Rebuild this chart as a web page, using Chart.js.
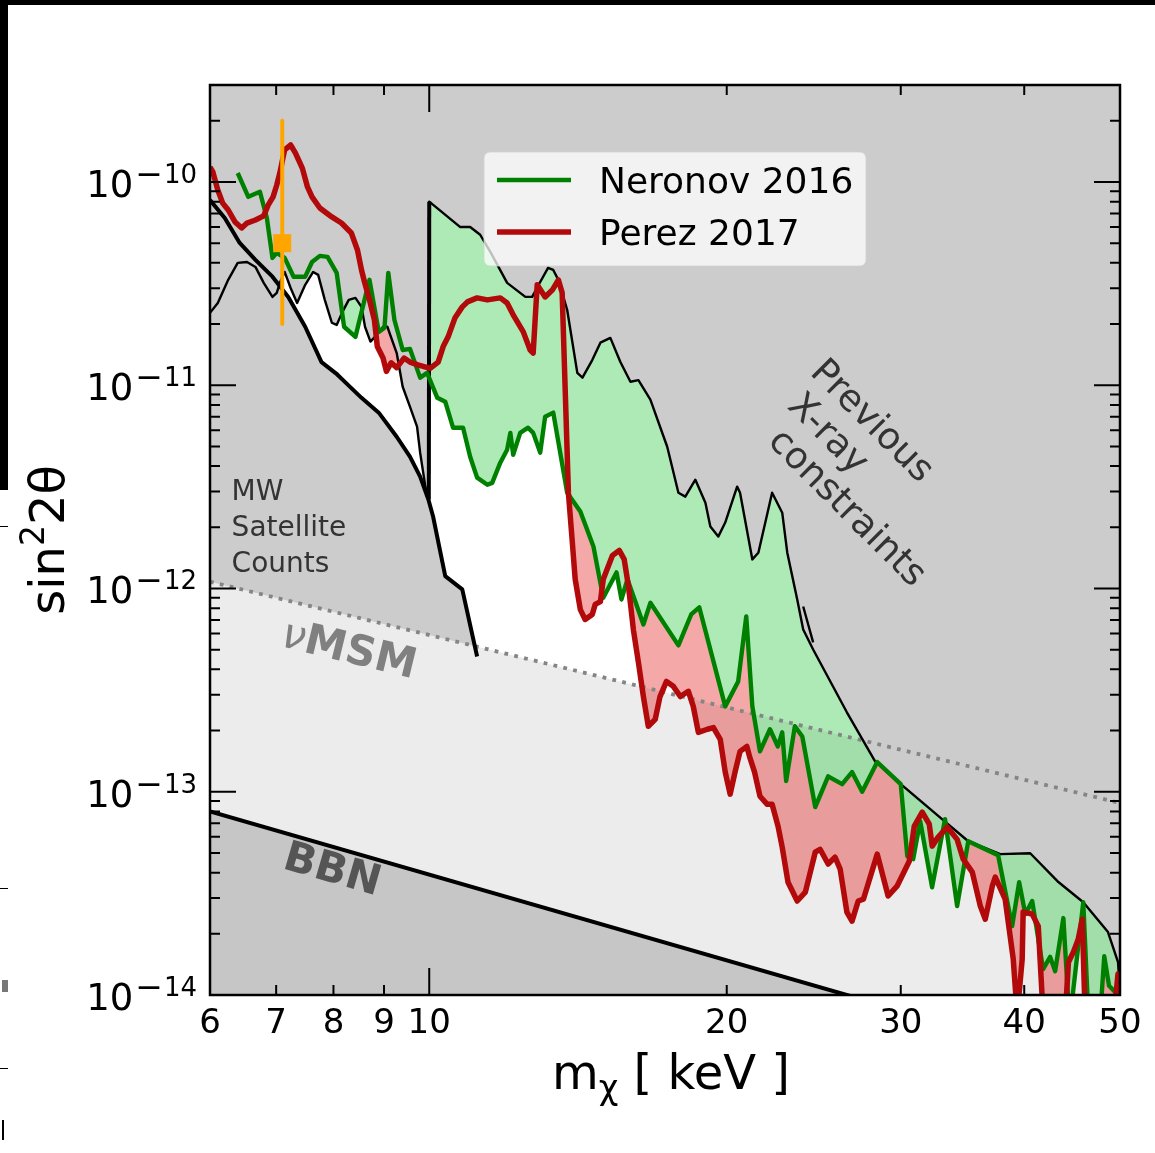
<!DOCTYPE html>
<html>
<head>
<meta charset="utf-8">
<script src="https://cdn.jsdelivr.net/npm/chart.js@4.4.1/dist/chart.umd.min.js"></script>
<style>
  html, body { margin: 0; padding: 0; background: #fff; }
  #wrap { position: relative; width: 1155px; height: 1153px; overflow: hidden; }
  #plot { position: absolute; left: 0; top: 0; }
  .edge { position: absolute; background: #000; }
</style>
</head>
<body>
<div id="wrap">
  <canvas id="plot" width="1155" height="1153"></canvas>
  <div class="edge" style="left:0;top:0;width:1155px;height:5px"></div>
  <div class="edge" style="left:0;top:0;width:8px;height:490px"></div>
  <div class="edge" style="left:0;top:526px;width:8px;height:1px"></div>
  <div class="edge" style="left:0;top:888px;width:8px;height:1px"></div>
  <div class="edge" style="left:0;top:1068px;width:8px;height:1px"></div>
  <div class="edge" style="left:2px;top:980px;width:6px;height:12px;background:#777"></div>
  <div class="edge" style="left:2px;top:1120px;width:2px;height:20px"></div>
</div>
<script>
// axis ticks
const massTicks = [6, 7, 8, 9, 10, 20, 30, 40, 50];
const mixTicks = [1e-14, 1e-13, 1e-12, 1e-11, 1e-10];
const mixTickExp = ['14', '13', '12', '11', '10'];

// previous X-ray constraints (thin black)
const xrayM = [6.00, 6.11, 6.26, 6.40, 6.54, 6.67, 6.80, 6.94, 7.01, 7.06,
  7.14, 7.24, 7.35, 7.49, 7.63, 7.72, 7.84, 7.97, 8.06, 8.16,
  8.29, 8.42, 8.54, 8.61, 8.72, 8.81, 8.98, 9.07, 9.27, 9.40,
  9.56, 9.72, 9.79, 9.91, 9.99, 10.0, 10.75, 11.0, 11.26, 11.53,
  11.99, 12.51, 12.71, 12.95, 13.19, 13.35, 13.51, 13.79, 14.12, 14.29,
  14.62, 14.90, 15.25, 15.61, 15.98, 16.28, 16.74, 17.41, 17.87, 18.16,
  18.59, 19.03, 19.25, 19.61, 19.93, 20.49, 20.63, 21.23, 21.53, 22.23,
  22.76, 23.03, 23.57, 23.90, 24.46, 26.46, 28.26, 30.0, 33.03, 35.11,
  37.82, 40.56, 43.22, 45.90, 48.62, 49.77, 50.0];
const xrayS = [2.27e-11, 2.54e-11, 3.30e-11, 4.00e-11, 4.04e-11, 3.82e-11, 3.19e-11, 2.72e-11, 2.85e-11, 3.19e-11,
  3.61e-11, 3.01e-11, 2.54e-11, 3.12e-11, 3.61e-11, 3.49e-11, 2.63e-11, 2.03e-11, 1.98e-11, 2.27e-11,
  2.63e-11, 2.69e-11, 2.43e-11, 1.94e-11, 1.64e-11, 1.73e-11, 1.94e-11, 1.94e-11, 1.44e-11, 9.83e-12,
  7.85e-12, 6.25e-12, 4.66e-12, 3.17e-12, 2.74e-12, 8.0e-11, 6.0e-11, 6.0e-11, 5.5e-11, 4.53e-11,
  3.19e-11, 2.72e-11, 2.72e-11, 3.22e-11, 3.78e-11, 3.69e-11, 3.30e-11, 2.35e-11, 1.15e-11, 1.09e-11,
  1.33e-11, 1.62e-11, 1.71e-11, 1.30e-11, 1.04e-11, 1.06e-11, 8.5e-12, 4.98e-12, 2.96e-12, 2.83e-12,
  3.43e-12, 2.64e-12, 2.02e-12, 1.80e-12, 2.11e-12, 3.17e-12, 2.96e-12, 1.39e-12, 1.50e-12, 2.96e-12,
  2.36e-12, 1.50e-12, 8.83e-13, 6.28e-13, 5.01e-13, 2.46e-13, 1.41e-13, 1.09e-13, 7.33e-14, 5.71e-14,
  4.93e-14, 4.98e-14, 3.63e-14, 2.86e-14, 2.04e-14, 1.45e-14, 1.03e-14];
const edgeM = [9.99, 10.0];
const edgeS = [2.74e-12, 8.0e-11];
const stubM = [23.90, 24.18, 24.46];
const stubS = [8.15e-13, 6.65e-13, 5.43e-13];

// MW satellite counts (thick black)
const mwM = [6.00, 6.21, 6.43, 6.67, 6.94, 7.20, 7.49, 7.78, 8.07, 8.23,
  8.54, 8.89, 9.27, 9.56, 9.79, 9.98, 10.09, 10.38, 10.80, 11.18];
const mwS = [8.15e-11, 6.65e-11, 5.01e-11, 4.14e-11, 3.42e-11, 2.72e-11, 1.94e-11, 1.30e-11, 1.13e-11, 1.03e-11,
  8.67e-12, 7.33e-12, 5.58e-12, 4.45e-12, 3.55e-12, 2.74e-12, 2.26e-12, 1.15e-12, 9.9e-13, 4.63e-13];

// nuMSM and BBN limits
const numsmM = [6, 50];
const numsmS = [1.08e-12, 8.8e-14];
const bbnM = [6, 50];
const bbnS = [8.0e-14, 4.1e-15];

// Neronov 2016
const neronovM = [6.40, 6.56, 6.74, 6.85, 6.94, 7.01, 7.14, 7.29, 7.49, 7.61,
  7.75, 7.89, 8.06, 8.20, 8.42, 8.70, 8.89, 9.01, 9.09, 9.22,
  9.40, 9.56, 9.79, 9.95, 10.19, 10.38, 10.57, 10.82, 11.0, 11.18,
  11.45, 11.58, 11.80, 11.99, 12.08, 12.16, 12.36, 12.59, 12.74, 12.95,
  13.10, 13.35, 13.79, 14.22, 14.66, 15.0, 15.47, 15.65, 15.87, 16.47,
  16.74, 17.87, 18.41, 18.76, 19.93, 20.54, 20.93, 21.23, 21.61, 22.12,
  22.53, 22.76, 22.97, 23.44, 23.85, 24.58, 25.33, 26.17, 26.78, 27.42,
  28.40, 30.0, 30.46, 30.88, 31.39, 32.27, 33.26, 34.21, 35.11, 37.64,
  38.89, 39.53, 40.1, 40.75, 41.80, 42.49, 42.99, 43.82, 44.34, 44.55,
  45.90, 46.44, 47.76, 48.2, 48.74, 49.77, 50.0];
const neronovS = [1.107e-10, 8.45e-11, 8.95e-11, 6.65e-11, 4.23e-11, 4.48e-11, 4.23e-11, 3.42e-11, 3.42e-11, 4.04e-11,
  4.33e-11, 4.28e-11, 3.57e-11, 1.94e-11, 1.73e-11, 3.30e-11, 1.83e-11, 1.92e-11, 3.57e-11, 2.10e-11,
  1.49e-11, 1.51e-11, 1.09e-11, 1.15e-11, 8.67e-12, 8.3e-12, 6.18e-12, 6.18e-12, 4.45e-12, 3.51e-12,
  3.24e-12, 3.31e-12, 4.16e-12, 4.82e-12, 5.83e-12, 4.55e-12, 5.83e-12, 6.18e-12, 5.83e-12, 4.66e-12,
  7.0e-12, 7.33e-12, 2.96e-12, 2.39e-12, 1.61e-12, 9.0e-13, 1.20e-12, 8.83e-13, 1.11e-12, 6.65e-13,
  8.5e-13, 5.25e-13, 7.45e-13, 8.08e-13, 2.63e-13, 3.49e-13, 7.28e-13, 2.63e-13, 1.58e-13, 2.03e-13,
  1.67e-13, 1.96e-13, 1.13e-13, 2.10e-13, 1.87e-13, 8.4e-14, 1.19e-13, 1.09e-13, 1.25e-13, 1.0e-13,
  1.40e-13, 1.09e-13, 4.82e-14, 4.66e-14, 7.17e-14, 3.39e-14, 7.33e-14, 2.74e-14, 5.71e-14, 4.87e-14,
  2.18e-14, 3.59e-14, 2.50e-14, 2.90e-14, 1.34e-14, 1.54e-14, 1.31e-14, 2.39e-14, 9.0e-15, 8.0e-15,
  2.86e-14, 8.0e-15, 8.0e-15, 1.55e-14, 1.11e-14, 1.0e-14, 9.0e-15];

// Perez 2017
const perezM = [6.00, 6.04, 6.11, 6.18, 6.26, 6.36, 6.46, 6.54, 6.67, 6.80,
  6.87, 6.95, 7.01, 7.06, 7.14, 7.24, 7.32, 7.44, 7.53, 7.61,
  7.75, 7.97, 8.15, 8.34, 8.46, 8.54, 8.60, 8.70, 8.80, 8.86,
  8.98, 9.05, 9.15, 9.27, 9.43, 9.56, 9.74, 10.02, 10.21, 10.33,
  10.45, 10.62, 10.80, 10.93, 11.18, 11.45, 11.80, 11.99, 12.16, 12.45,
  12.65, 12.74, 12.86, 13.10, 13.32, 13.51, 13.63, 13.73, 13.83, 13.95,
  14.05, 14.22, 14.38, 14.62, 14.72, 14.90, 15.0, 15.32, 15.57, 15.75,
  15.91, 16.09, 16.28, 16.47, 16.66, 16.93, 17.12, 17.38, 17.66, 17.95,
  18.29, 18.50, 18.72, 19.12, 19.39, 19.70, 19.93, 20.16, 20.39, 20.63,
  20.96, 21.10, 21.34, 21.61, 21.98, 22.23, 22.54, 22.76, 23.07, 23.57,
  24.02, 24.58, 24.86, 25.33, 25.74, 26.05, 26.46, 26.78, 27.17, 27.50,
  28.40, 29.13, 29.74, 30.6, 30.96, 31.54, 32.06, 32.28, 32.73, 33.43,
  34.21, 34.70, 35.44, 36.11, 36.53, 37.13, 37.39, 38.26, 38.99, 39.35,
  39.81, 39.9, 40.75, 41.33, 41.80, 44.02, 44.34, 44.86, 45.36, 45.79,
  46.1, 49.3, 49.77, 50.0];
const perezS = [1.185e-10, 1.12e-10, 9.13e-11, 7.87e-11, 7.28e-11, 6.36e-11, 5.94e-11, 6.28e-11, 6.5e-11, 6.81e-11,
  7.69e-11, 8.45e-11, 9.67e-11, 1.107e-10, 1.44e-10, 1.52e-10, 1.39e-10, 1.17e-10, 9.45e-11, 8.45e-11,
  7.45e-11, 6.73e-11, 6.28e-11, 5.61e-11, 4.63e-11, 3.69e-11, 3.22e-11, 2.63e-11, 2.10e-11, 1.55e-11,
  1.36e-11, 1.17e-11, 1.29e-11, 1.22e-11, 1.36e-11, 1.30e-11, 1.26e-11, 1.21e-11, 1.30e-11, 1.55e-11,
  1.73e-11, 2.15e-11, 2.43e-11, 2.57e-11, 2.69e-11, 2.63e-11, 2.69e-11, 2.54e-11, 2.22e-11, 1.83e-11,
  1.49e-11, 1.44e-11, 3.12e-11, 2.72e-11, 2.94e-11, 3.30e-11, 2.85e-11, 9.18e-12, 2.96e-12, 1.74e-12,
  1.11e-12, 7.87e-13, 7.04e-13, 7.45e-13, 8.35e-13, 8.62e-13, 1.11e-12, 1.45e-12, 1.54e-12, 1.39e-12,
  1.02e-12, 6.28e-13, 4.33e-13, 2.94e-13, 2.10e-13, 2.27e-13, 2.94e-13, 3.49e-13, 3.30e-13, 2.94e-13,
  3.12e-13, 2.63e-13, 1.96e-13, 2.03e-13, 2.07e-13, 1.81e-13, 1.25e-13, 9.73e-14, 1.25e-13, 1.58e-13,
  1.67e-13, 1.48e-13, 1.25e-13, 9.5e-14, 8.67e-14, 8.67e-14, 6.77e-14, 5.33e-14, 3.59e-14, 2.90e-14,
  3.21e-14, 5.04e-14, 5.21e-14, 4.41e-14, 4.77e-14, 4.16e-14, 2.56e-14, 2.31e-14, 2.90e-14, 2.96e-14,
  4.93e-14, 3.07e-14, 3.43e-14, 4.55e-14, 6.77e-14, 7.94e-14, 6.92e-14, 5.40e-14, 5.98e-14, 6.70e-14,
  5.83e-14, 4.66e-14, 4.02e-14, 2.74e-14, 2.36e-14, 3.43e-14, 3.80e-14, 2.96e-14, 1.50e-14, 8e-15,
  1.50e-14, 2.56e-14, 2.50e-14, 2.18e-14, 8e-15, 8e-15, 1.45e-14, 1.63e-14, 1.88e-14, 2.36e-14,
  8e-15, 8e-15, 1.27e-14, 1.13e-14];

// 3.5 keV line point
const lineM = [7.1];
const lineS = [5.0e-11];
const lineLo = [2.0e-11];
const lineHi = [2.0e-10];

// text anchors (data coords)
const mwText = ['MW', 'Satellite', 'Counts'];
const mwTextAt = [6.31, 2.74e-12];
const xrayText = ['Previous', 'X-ray', 'constraints'];
const xrayTextM = [28.0, 25.27, 26.42];
const xrayTextS = [6.6e-12, 5.71e-12, 2.47e-12];
const numsmTextAt = [8.29, 4.9e-13];
const bbnTextAt = [7.97, 4.06e-14];

const GRAY = '#cccccc';
const GREEN_FILL = 'rgba(40,200,60,0.38)';
const RED_FILL = 'rgba(225,25,25,0.38)';
const NONE = 'rgba(0,0,0,0)';
const FONT = '"DejaVu Sans", sans-serif';

const pts = (xs, ys) => xs.map((x, i) => ({x: x, y: ys[i]}));

function fillSet(data, fill, color, order) {
  return { data: data, fill: fill, backgroundColor: color, borderColor: NONE, borderWidth: 0,
    pointRadius: 0, order: order };
}
function lineSet(label, data, color, width, order, dash) {
  return { label: label, data: data, borderColor: color, borderWidth: width, pointRadius: 0,
    fill: false, borderDash: dash || [], borderJoinStyle: 'round', order: order };
}

const datasets = [
  fillSet(pts(mwM, mwS), 'start', GRAY, 100),                                 // 0
  fillSet(pts(numsmM, numsmS), 'start', '#ececec', 99),                       // 1
  fillSet(pts(bbnM, bbnS), 'start', '#c6c6c6', 98),                           // 2
  fillSet(pts(neronovM, neronovS), {target: 5, above: NONE, below: GREEN_FILL}, GREEN_FILL, 97), // 3
  fillSet(pts(perezM, perezS), {target: 3, above: NONE, below: RED_FILL}, RED_FILL, 96),         // 4
  fillSet(pts(xrayM, xrayS), 'end', GRAY, 95),                                // 5
  lineSet(null, pts(numsmM, numsmS), '#858585', 3.8, 20, [3.8, 6.3]),
  lineSet(null, pts(bbnM, bbnS), '#000', 4, 19),
  lineSet(null, pts(mwM, mwS), '#000', 4, 18),
  lineSet(null, pts(xrayM, xrayS), '#000', 2.4, 17),
  lineSet(null, pts(edgeM, edgeS), '#000', 4, 16),
  lineSet(null, pts(stubM, stubS), '#000', 2.4, 15),
  lineSet('Neronov 2016', pts(neronovM, neronovS), '#008000', 4.4, 14),
  lineSet('Perez 2017', pts(perezM, perezS), '#b20a0a', 5.5, 13),
  lineSet(null, [{x: lineM[0], y: lineHi[0]}, {x: lineM[0], y: lineLo[0]}], '#ffa500', 4, 12),
  { data: pts(lineM, lineS), showLine: false, pointStyle: 'rect', pointRadius: 12.7,
    backgroundColor: '#ffa500', borderWidth: 0, order: 11 }
];

function richWidth(ctx, parts) {
  let w = 0;
  for (const p of parts) { ctx.font = p[1]; w += ctx.measureText(p[0]).width + (p[3] || 0); }
  return w;
}
function richText(ctx, parts, x, y) {
  let cx = x;
  for (const p of parts) {
    ctx.font = p[1];
    ctx.fillText(p[0], cx, y + (p[2] || 0));
    cx += ctx.measureText(p[0]).width + (p[3] || 0);
  }
}

const frame = {
  id: 'frame',
  afterDatasetsDraw(chart) {
    const ctx = chart.ctx, a = chart.chartArea;
    const sx = chart.scales.x, sy = chart.scales.y;
    const px = v => sx.getPixelForValue(v), py = v => sy.getPixelForValue(v);
    ctx.save();

    // region labels
    ctx.fillStyle = '#333';
    ctx.textAlign = 'left';
    ctx.textBaseline = 'alphabetic';
    ctx.font = '28px ' + FONT;
    mwText.forEach((t, i) => ctx.fillText(t, px(mwTextAt[0]), py(mwTextAt[1]) + i * 36));

    ctx.font = '37px ' + FONT;
    ctx.textAlign = 'center';
    ctx.textBaseline = 'middle';
    xrayText.forEach((t, i) => {
      ctx.save();
      ctx.translate(px(xrayTextM[i]), py(xrayTextS[i]));
      ctx.rotate(45 * Math.PI / 180);
      ctx.fillText(t, 0, 0);
      ctx.restore();
    });

    ctx.textAlign = 'left';
    ctx.textBaseline = 'middle';
    const slope = (m, s) => Math.atan2(py(s[1]) - py(s[0]), px(m[1]) - px(m[0]));
    const nuParts = [['\u03bd', 'italic 42px ' + FONT], ['MSM', 'bold 42px ' + FONT]];
    ctx.save();
    ctx.fillStyle = '#808080';
    ctx.translate(px(numsmTextAt[0]), py(numsmTextAt[1]));
    ctx.rotate(slope(numsmM, numsmS));
    richText(ctx, nuParts, -richWidth(ctx, nuParts) / 2, 0);
    ctx.restore();

    ctx.save();
    ctx.fillStyle = '#555';
    ctx.font = 'bold 42px ' + FONT;
    ctx.textAlign = 'center';
    ctx.translate(px(bbnTextAt[0]), py(bbnTextAt[1]));
    ctx.rotate(slope([bbnM[0], 26.5], [bbnS[0], 1e-14]));
    ctx.fillText('BBN', 0, 0);
    ctx.restore();

    // inward ticks on all four sides
    ctx.strokeStyle = '#000';
    ctx.lineWidth = 2;
    ctx.beginPath();
    massTicks.forEach(v => {
      const x = px(v), len = v === 10 ? 27 : 10;
      ctx.moveTo(x, a.bottom); ctx.lineTo(x, a.bottom - len);
      ctx.moveTo(x, a.top); ctx.lineTo(x, a.top + len);
    });
    for (let e = -14; e <= -10; e++) {
      for (let k = 1; k <= 9; k++) {
        const v = k * Math.pow(10, e);
        if (v > sy.max) break;
        const y = py(v), len = k === 1 ? 26 : 10;
        ctx.moveTo(a.left, y); ctx.lineTo(a.left + len, y);
        ctx.moveTo(a.right, y); ctx.lineTo(a.right - len, y);
      }
    }
    ctx.stroke();
    ctx.lineWidth = 2.5;
    ctx.strokeRect(a.left, a.top, a.right - a.left, a.bottom - a.top);

    // tick labels
    ctx.fillStyle = '#000';
    ctx.textBaseline = 'alphabetic';
    ctx.textAlign = 'center';
    ctx.font = '34px ' + FONT;
    massTicks.forEach(v => ctx.fillText(String(v), px(v), a.bottom + 38));
    ctx.textAlign = 'left';
    mixTicks.forEach((v, i) => {
      const parts = [['10', '37px ' + FONT, 0, 2], ['\u2212', '33px ' + FONT, -12, 1],
        [mixTickExp[i], '26px ' + FONT, -14]];
      richText(ctx, parts, a.left - 13 - richWidth(ctx, parts), py(v) + 15);
    });

    // axis titles
    const xParts = [['m', '48px ' + FONT, 0], ['\u03c7', '34px ' + FONT, 10], [' [ keV ]', '48px ' + FONT, 0]];
    richText(ctx, xParts, (a.left + a.right) / 2 + 6 - richWidth(ctx, xParts) / 2, a.bottom + 94);
    const yParts = [['sin', '48px ' + FONT, 0], ['2', '33px ' + FONT, -20], ['2\u03b8', '48px ' + FONT, 0]];
    ctx.save();
    ctx.translate(64, (a.top + a.bottom) / 2);
    ctx.rotate(-Math.PI / 2);
    richText(ctx, yParts, -richWidth(ctx, yParts) / 2, 0);
    ctx.restore();

    // legend inside the plot
    const items = chart.data.datasets.filter(d => d.label);
    const lx = a.left + 274, ly = a.top + 67, lw = 382, lh = 114;
    ctx.fillStyle = 'rgba(255,255,255,0.75)';
    ctx.strokeStyle = 'rgba(210,210,210,0.8)';
    ctx.lineWidth = 1;
    ctx.beginPath();
    ctx.roundRect(lx, ly, lw, lh, 6);
    ctx.fill();
    ctx.stroke();
    ctx.font = '36px ' + FONT;
    ctx.textBaseline = 'alphabetic';
    items.forEach((d, i) => {
      const y = ly + 28 + i * 52;
      ctx.strokeStyle = d.borderColor;
      ctx.lineWidth = d.borderWidth;
      ctx.beginPath();
      ctx.moveTo(lx + 13, y); ctx.lineTo(lx + 87, y);
      ctx.stroke();
      ctx.fillStyle = '#000';
      ctx.fillText(d.label, lx + 115, y + 13);
    });
    ctx.restore();
  }
};

new Chart(document.getElementById('plot').getContext('2d'), {
  type: 'line',
  data: { datasets: datasets },
  options: {
    responsive: false,
    animation: false,
    devicePixelRatio: 1,
    layout: { padding: { left: 210, top: 85, right: 35, bottom: 158 } },
    elements: { line: { tension: 0 } },
    plugins: {
      legend: { display: false },
      tooltip: { enabled: false },
      filler: { propagate: false }
    },
    scales: {
      x: { type: 'logarithmic', min: 6, max: 50, bounds: 'data', display: false },
      y: { type: 'logarithmic', min: 1e-14, max: 3e-10, bounds: 'data', display: false }
    }
  },
  plugins: [frame]
});
</script>
</body>
</html>
